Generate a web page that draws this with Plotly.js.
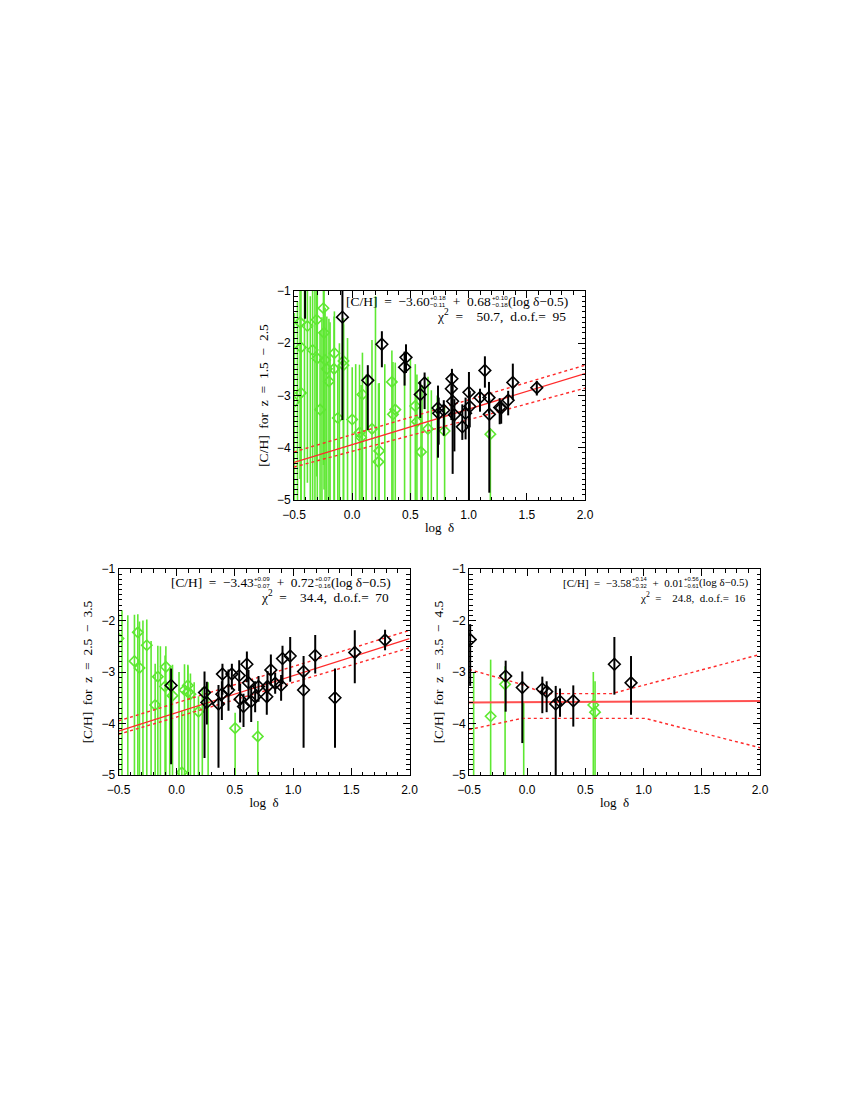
<!DOCTYPE html>
<html>
<head>
<meta charset="utf-8">
<script src="https://cdn.plot.ly/plotly-3.0.1.min.js"></script>
<style>html,body{margin:0;padding:0;background:#fff;}#chart{width:850px;height:1100px;}</style>
</head>
<body>
<div id="chart"></div>
<script>
// ---------------- DATA ----------------
// Panel 1: z = 1.5 - 2.5
const p1BlackX = [-0.405,-0.084,0.134,0.255,0.45,0.462,0.585,0.622,0.737,0.743,0.787,0.852,0.857,0.863,0.878,0.946,0.974,1.003,1.01,1.098,1.14,1.175,1.178,1.267,1.28,1.34,1.38,1.586];
const p1BlackY = [-0.85,-1.50,-2.71,-2.02,-2.46,-2.27,-2.98,-2.76,-3.24,-3.34,-3.28,-2.87,-2.68,-3.11,-3.37,-3.60,-3.34,-2.94,-3.21,-3.04,-2.52,-3.04,-3.36,-3.23,-3.24,-3.09,-2.75,-2.85];
const p1BlackUp = [0.3,0.6,0.29,0.25,0.3,0.25,0.25,0.2,0.43,0.3,0.19,0.3,0.19,0.3,0.3,0.43,0.3,0.39,0.3,0.17,0.27,0.3,0.3,0.18,0.15,0.18,0.36,0.13];
const p1BlackDn = [0.68,1.97,0.95,0.44,0.35,0.3,0.45,0.5,0.95,0.6,0.49,0.6,0.5,1.39,0.7,0.25,0.5,2.06,0.4,0.27,0.33,0.3,1.5,0.32,0.3,0.29,0.34,0.15];

const p1GreenX = [-0.497,-0.448,-0.44,-0.44,-0.385,-0.34,-0.305,-0.30,-0.276,-0.247,-0.242,-0.233,-0.218,-0.20,-0.153,-0.156,-0.124,-0.075,-0.075,0.0,0.088,0.063,0.077,0.17,0.232,0.226,0.341,0.35,0.37,0.542,0.556,0.591,0.651,0.794,1.187,
  -0.47,-0.41,-0.36,-0.32,-0.26,-0.19,-0.11,-0.04,0.03,0.12,0.20,0.28,0.45,0.50,0.60,0.68,0.73];
const p1GreenY = [-3.12,-1.60,-2.08,-2.95,-1.67,-2.13,-1.55,-2.29,-3.27,-1.33,-1.80,-2.32,-2.49,-2.73,-2.19,-2.49,-3.43,-2.34,-2.42,-3.46,-2.98,-3.71,-3.80,-3.64,-4.06,-4.27,-2.74,-3.36,-3.27,-3.20,-3.50,-4.08,-3.64,-3.68,-3.74,
  -5.4,-5.4,-5.4,-5.4,-5.4,-5.4,-5.4,-5.4,-5.4,-5.4,-5.4,-5.4,-5.4,-5.4,-5.4,-5.4,-5.4];
const p1GreenUp = [1.7,1.0,1.2,1.3,0.9,1.3,0.8,1.4,1.5,0.5,0.9,1.0,1.0,1.2,0.8,1.0,1.0,0.7,0.9,1.0,0.8,1.3,1.0,1.7,1.3,1.5,0.6,1.0,0.9,0.8,0.9,0.7,1.0,0.5,0.1,
  4.2,4.4,4.3,4.4,3.9,3.8,3.4,3.5,3.0,2.8,4.3,3.0,2.9,3.1,2.6,2.5,2.4];
const p1GreenDn = [3,3,3,3,3,3,3,3,3,3,3,3,3,3,3,3,3,3,3,3,3,3,3,3,3,3,3,3,3,3,3,3,3,3,3,
  0,0,0,0,0,0,0,0,0,0,0,0,0,0,0,0,0];

const p1FitX = [-0.5, 2.0];
const p1Fit = [-4.28, -2.58];
const p1FitUpper = [-4.08, -2.42];
const p1FitLower = [-4.37, -2.86];

// Panel 2: z = 2.5 - 3.5
const p2BlackX = [-0.048,0.239,0.259,0.359,0.393,0.388,0.445,0.474,0.537,0.545,0.574,0.603,0.617,0.64,0.674,0.703,0.774,0.78,0.809,0.846,0.897,0.909,0.975,1.09,1.09,1.19,1.36,1.53,1.79];
const p2BlackY = [-3.26,-3.40,-3.59,-3.62,-3.04,-3.43,-3.35,-3.04,-3.07,-3.53,-3.67,-2.85,-3.21,-3.57,-3.48,-3.28,-3.48,-3.28,-2.96,-3.22,-3.26,-2.74,-2.69,-2.99,-3.35,-2.68,-3.50,-2.62,-2.38];
const p2BlackUp = [0.33,0.41,0.4,0.37,0.2,0.25,0.4,0.2,0.3,0.3,0.25,0.25,0.25,0.3,0.3,0.2,0.3,0.3,0.3,0.2,0.2,0.25,0.37,0.3,0.3,0.4,0.57,0.43,0.2];
const p2BlackDn = [1.53,1.27,0.43,1.24,0.4,0.5,0.4,0.3,0.3,0.45,0.4,0.35,0.3,0.4,0.3,0.3,0.35,0.3,0.3,0.2,0.3,0.5,0.5,0.3,1.12,0.35,0.97,0.6,0.2];

const p2GreenX = [-0.5,-0.363,-0.334,-0.32,-0.257,-0.185,-0.162,-0.093,-0.10,-0.036,0.067,0.096,0.096,0.118,0.187,0.044,0.502,0.697,
  -0.47,-0.42,-0.29,-0.22,-0.14,-0.06,0.02,0.15,0.22,0.27];
const p2GreenY = [-2.35,-2.79,-2.23,-2.92,-2.48,-3.64,-3.09,-2.90,-3.28,-3.46,-3.35,-3.26,-3.39,-3.43,-3.77,-4.95,-4.09,-4.25,
  -5.4,-5.4,-5.4,-5.4,-5.4,-5.4,-5.4,-5.4,-5.4,-5.4];
const p2GreenUp = [0.5,0.9,0.35,0.9,0.5,0.8,0.6,0.4,0.6,0.6,0.5,0.4,0.5,0.4,0.3,1.2,0.3,0.3,
  3.6,3.5,3.4,3.0,2.9,2.5,2.4,2.2,2.1,2.2];
const p2GreenDn = [3,3,3,3,3,3,3,3,3,3,3,3,3,3,3,3,3,3,0,0,0,0,0,0,0,0,0,0];

const p2FitX = [-0.5, 2.0];
const p2Fit = [-4.15, -2.35];
const p2FitUpper = [-3.95, -2.19];
const p2FitLower = [-4.21, -2.53];

// Panel 3: z = 3.5 - 4.5
const p3BlackX = [-0.49,-0.185,-0.042,0.13,0.167,0.245,0.282,0.396,0.749,0.892];
const p3BlackY = [-2.37,-3.08,-3.30,-3.33,-3.38,-3.62,-3.57,-3.56,-2.85,-3.21];
const p3BlackUp = [0.3,0.3,0.31,0.24,0.2,0.35,0.25,0.3,0.53,0.52];
const p3BlackDn = [0.9,0.69,1.08,0.47,0.4,1.5,0.3,0.5,0.59,0.62];

const p3GreenX = [-0.314,-0.19,0.568,0.583,-0.46,-0.03];
const p3GreenY = [-3.86,-3.24,-3.64,-3.78,-5.4,-5.4];
const p3GreenUp = [1.1,0.35,0.64,0.6,2.4,1.8];
const p3GreenDn = [1.5,2,2,2,0,0];

const p3FitX = [-0.5, 2.0];
const p3Fit = [-3.59, -3.565];
const p3UpperX = [-0.5, -0.047, 0.153, 0.726, 2.0];
const p3Upper = [-2.95, -3.24, -3.42, -3.42, -2.66];
const p3LowerX = [-0.5, -0.047, 1.012, 2.0];
const p3Lower = [-4.12, -3.90, -3.90, -4.47];

const xTickVals = [-0.5, 0, 0.5, 1.0, 1.5, 2.0];
const xTickText = ["\u22120.5", "0.0", "0.5", "1.0", "1.5", "2.0"];
const yTickVals = [-5, -4, -3, -2, -1];
const yTickText = ["\u22125", "\u22124", "\u22123", "\u22122", "\u22121"];
const yTitles = ["[C/H]  for  z  =  1.5  \u2212  2.5", "[C/H]  for  z  =  2.5  \u2212  3.5", "[C/H]  for  z  =  3.5  \u2212  4.5"];
const xTitle = "log  \u03b4";

// fit equations: intercept, its +/- errors, slope, its +/- errors, chi2, dof
const eqIntercepts = ["\u22123.60", "\u22123.43", "\u22123.58"];
const eqInterceptErr = [["+0.18", "\u22120.11"], ["+0.09", "\u22120.07"], ["+0.14", "\u22120.32"]];
const eqSlopes = ["0.68", "0.72", "0.01"];
const eqSlopeErr = [["+0.10", "\u22120.18"], ["+0.07", "\u22120.16"], ["+0.56", "\u22120.61"]];
const eqChi2 = ["50.7", "34.4", "24.8"];
const eqDof = ["95", "70", "16"];

// ---------------- STYLE ----------------
const GREEN = '#5ee832';
const BLACK = '#000000';
const RED = '#ff2a2a';
const SANS = 'Liberation Sans';
const SERIF = 'Liberation Serif';

function errTrace(x, y, up, dn, color, ax, msize, thick) {
  return {
    x: x, y: y, xaxis: 'x' + ax, yaxis: 'y' + ax, type: 'scatter', mode: 'markers',
    marker: {symbol: 'diamond-open', size: msize, color: color, line: {width: 1.6, color: color}},
    error_y: {type: 'data', symmetric: false, array: up, arrayminus: dn, width: 0, thickness: thick, color: color},
    showlegend: false, hoverinfo: 'skip'
  };
}
function lineTrace(x, y, ax, dash, w, col) {
  return {
    x: x, y: y, xaxis: 'x' + ax, yaxis: 'y' + ax, type: 'scatter', mode: 'lines',
    line: {color: col || RED, width: w || (dash ? 1.4 : 1.3), dash: dash || 'solid'}, showlegend: false, hoverinfo: 'skip'
  };
}

const data = [
  errTrace(p1GreenX, p1GreenY, p1GreenUp, p1GreenDn, GREEN, '', 8, 1.6),
  lineTrace(p1FitX, p1Fit, ''), lineTrace(p1FitX, p1FitUpper, '', 'dot'), lineTrace(p1FitX, p1FitLower, '', 'dot'),
  errTrace(p1BlackX, p1BlackY, p1BlackUp, p1BlackDn, BLACK, '', 9, 2),

  errTrace(p2GreenX, p2GreenY, p2GreenUp, p2GreenDn, GREEN, '2', 8, 1.6),
  lineTrace(p2FitX, p2Fit, '2'), lineTrace(p2FitX, p2FitUpper, '2', 'dot'), lineTrace(p2FitX, p2FitLower, '2', 'dot'),
  errTrace(p2BlackX, p2BlackY, p2BlackUp, p2BlackDn, BLACK, '2', 9, 2),

  errTrace(p3GreenX, p3GreenY, p3GreenUp, p3GreenDn, GREEN, '3', 8, 1.6),
  lineTrace(p3FitX, p3Fit, '3', null, 2, '#ff5050'), lineTrace(p3UpperX, p3Upper, '3', 'dot'), lineTrace(p3LowerX, p3Lower, '3', 'dot'),
  errTrace(p3BlackX, p3BlackY, p3BlackUp, p3BlackDn, BLACK, '3', 9, 2)
];

const W = 850, H = 1100;
const px = v => v / W;
const py = v => 1 - v / H;

function xAxis(dom, anchor) {
  return {
    domain: dom, anchor: anchor, range: [-0.5, 2.0],
    showline: true, linecolor: 'black', linewidth: 1, mirror: 'allticks',
    ticks: 'inside', ticklen: 7, tickwidth: 1, tickcolor: 'black',
    tickvals: xTickVals, ticktext: xTickText, ticklabelstandoff: 4,
    minor: {ticks: 'inside', ticklen: 3.5, dtick: 0.1, tickcolor: 'black', tickwidth: 1, showgrid: false},
    showgrid: false, zeroline: false,
    tickfont: {family: SANS, size: 12, color: 'black'},
    title: {text: xTitle, font: {family: SERIF, size: 13, color: 'black'}, standoff: 1}
  };
}
function yAxis(dom, anchor, title) {
  return {
    domain: dom, anchor: anchor, range: [-5, -1],
    showline: true, linecolor: 'black', linewidth: 1, mirror: 'allticks',
    ticks: 'inside', ticklen: 7, tickwidth: 1, tickcolor: 'black',
    tickvals: yTickVals, ticktext: yTickText,
    minor: {ticks: 'inside', ticklen: 3.5, dtick: 0.1, tickcolor: 'black', tickwidth: 1, showgrid: false},
    showgrid: false, zeroline: false,
    tickfont: {family: SANS, size: 12, color: 'black'},
    title: {text: title, font: {family: SERIF, size: 13.5, color: 'black'}, standoff: 5}
  };
}

// text measurement for laying out the stacked super/subscripts
const cvs = document.createElement('canvas');
const ctx = cvs.getContext('2d');
function tw(text, size, fam) { ctx.font = size + 'px "' + fam + '"'; return ctx.measureText(text).width; }

function ann(text, x, y, xanchor, size, fam) {
  return {text: text, x: px(x), y: py(y), xref: 'paper', yref: 'paper', xanchor: xanchor, yanchor: 'middle',
          showarrow: false, borderpad: 0, font: {family: fam || SERIF, size: size, color: 'black'}};
}

function equation(i, left, right, yc, maxSize, small) {
  const p1 = '[C/H]  =  ' + eqIntercepts[i];
  const p2 = '  +  ' + eqSlopes[i];
  const p3 = '(log \u03b4\u22120.5)';
  const st1 = Math.max(tw(eqInterceptErr[i][0], small, SANS), tw(eqInterceptErr[i][1], small, SANS));
  const st2 = Math.max(tw(eqSlopeErr[i][0], small, SANS), tw(eqSlopeErr[i][1], small, SANS));
  const target = right - left - st1 - st2 - 2;
  const nat = tw(p1, 10, SERIF) + tw(p2, 10, SERIF) + tw(p3, 10, SERIF);
  let size = Math.min(maxSize, 10 * target / nat);
  const w1 = tw(p1, size, SERIF), w2 = tw(p2, size, SERIF), w3 = tw(p3, size, SERIF);
  const total = w1 + st1 + w2 + st2 + w3 + 2;
  let x = right - total;
  const out = [];
  out.push(ann(p1, x, yc, 'left', size)); x += w1 + 0.5;
  out.push(ann(eqInterceptErr[i][0], x, yc - 3.4, 'left', small, SANS));
  out.push(ann(eqInterceptErr[i][1], x, yc + 3.6, 'left', small, SANS)); x += st1 + 0.5;
  out.push(ann(p2, x, yc, 'left', size)); x += w2 + 0.5;
  out.push(ann(eqSlopeErr[i][0], x, yc - 3.4, 'left', small, SANS));
  out.push(ann(eqSlopeErr[i][1], x, yc + 3.6, 'left', small, SANS)); x += st2 + 0.5;
  out.push(ann(p3, x, yc, 'left', size));
  out.push(ann('\u03c7<sup>2</sup>  =    ' + eqChi2[i] + ',  d.o.f.=  ' + eqDof[i], right, yc + 14, 'right', size));
  return out;
}

const annotations = [].concat(
  equation(0, 345, 567, 301, 14, 6.2),
  equation(1, 170, 390, 582, 14, 6.2),
  equation(2, 562, 747, 582.5, 12, 5.8)
);

const layout = {
  width: W, height: H, margin: {l: 0, r: 0, t: 0, b: 0},
  paper_bgcolor: 'white', plot_bgcolor: 'white', showlegend: false,
  xaxis: xAxis([px(294), px(585)], 'y'),
  yaxis: yAxis([py(500), py(291)], 'x', yTitles[0]),
  xaxis2: xAxis([px(118.5), px(409.5)], 'y2'),
  yaxis2: yAxis([py(775), py(569)], 'x2', yTitles[1]),
  xaxis3: xAxis([px(469), px(760)], 'y3'),
  yaxis3: yAxis([py(775), py(569)], 'x3', yTitles[2]),
  annotations: annotations
};

Plotly.newPlot('chart', data, layout, {staticPlot: true, displayModeBar: false});
</script>
</body>
</html>
